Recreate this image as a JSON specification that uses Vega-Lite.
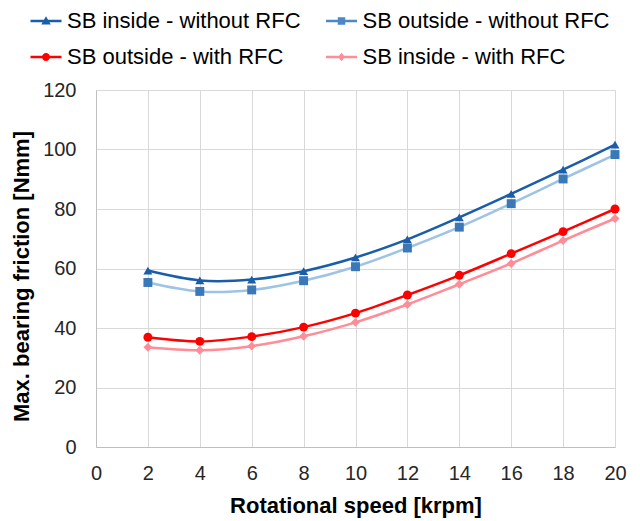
{
  "$schema": "https://vega.github.io/schema/vega-lite/v6.json",
  "width": 519,
  "height": 357,
  "autosize": {"type": "none"},
  "padding": {"left": 96, "top": 90, "right": 25, "bottom": 74},
  "background": "white",
  "config": {
    "font": "Liberation Sans",
    "view": {"stroke": null},
    "axis": {
      "gridColor": "#d9d9d9",
      "gridWidth": 1,
      "domainColor": "#bfbfbf",
      "ticks": false,
      "labelFlush": false,
      "labelFontSize": 20,
      "labelColor": "#262626",
      "labelFont": "Liberation Sans",
      "titleFont": "Liberation Sans",
      "titleFontSize": 22,
      "titleFontWeight": "bold",
      "titleColor": "#000000"
    }
  },
  "data": {
    "values": [
      {"speed": 2, "series": "SB inside - without RFC", "friction": 59.3},
      {"speed": 4, "series": "SB inside - without RFC", "friction": 56.0},
      {"speed": 6, "series": "SB inside - without RFC", "friction": 56.3},
      {"speed": 8, "series": "SB inside - without RFC", "friction": 59.1},
      {"speed": 10, "series": "SB inside - without RFC", "friction": 63.7},
      {"speed": 12, "series": "SB inside - without RFC", "friction": 69.8},
      {"speed": 14, "series": "SB inside - without RFC", "friction": 77.2},
      {"speed": 16, "series": "SB inside - without RFC", "friction": 85.1},
      {"speed": 18, "series": "SB inside - without RFC", "friction": 93.2},
      {"speed": 20, "series": "SB inside - without RFC", "friction": 101.6},
      {"speed": 2, "series": "SB outside - without RFC", "friction": 55.3},
      {"speed": 4, "series": "SB outside - without RFC", "friction": 52.3},
      {"speed": 6, "series": "SB outside - without RFC", "friction": 52.8},
      {"speed": 8, "series": "SB outside - without RFC", "friction": 55.9},
      {"speed": 10, "series": "SB outside - without RFC", "friction": 60.6},
      {"speed": 12, "series": "SB outside - without RFC", "friction": 66.9},
      {"speed": 14, "series": "SB outside - without RFC", "friction": 73.9},
      {"speed": 16, "series": "SB outside - without RFC", "friction": 81.8},
      {"speed": 18, "series": "SB outside - without RFC", "friction": 90.1},
      {"speed": 20, "series": "SB outside - without RFC", "friction": 98.3},
      {"speed": 2, "series": "SB outside - with RFC", "friction": 36.9},
      {"speed": 4, "series": "SB outside - with RFC", "friction": 35.5},
      {"speed": 6, "series": "SB outside - with RFC", "friction": 37.1},
      {"speed": 8, "series": "SB outside - with RFC", "friction": 40.3},
      {"speed": 10, "series": "SB outside - with RFC", "friction": 45.0},
      {"speed": 12, "series": "SB outside - with RFC", "friction": 51.1},
      {"speed": 14, "series": "SB outside - with RFC", "friction": 57.7},
      {"speed": 16, "series": "SB outside - with RFC", "friction": 65.0},
      {"speed": 18, "series": "SB outside - with RFC", "friction": 72.4},
      {"speed": 20, "series": "SB outside - with RFC", "friction": 80.0},
      {"speed": 2, "series": "SB inside - with RFC", "friction": 33.5},
      {"speed": 4, "series": "SB inside - with RFC", "friction": 32.5},
      {"speed": 6, "series": "SB inside - with RFC", "friction": 33.9},
      {"speed": 8, "series": "SB inside - with RFC", "friction": 37.2},
      {"speed": 10, "series": "SB inside - with RFC", "friction": 41.9},
      {"speed": 12, "series": "SB inside - with RFC", "friction": 47.9},
      {"speed": 14, "series": "SB inside - with RFC", "friction": 54.7},
      {"speed": 16, "series": "SB inside - with RFC", "friction": 61.7},
      {"speed": 18, "series": "SB inside - with RFC", "friction": 69.4},
      {"speed": 20, "series": "SB inside - with RFC", "friction": 76.8}
    ]
  },
  "encoding": {
    "x": {
      "field": "speed",
      "type": "quantitative",
      "scale": {"domain": [0, 20], "nice": false},
      "axis": {"values": [0, 2, 4, 6, 8, 10, 12, 14, 16, 18, 20], "title": "Rotational speed [krpm]", "labelPadding": 16, "titlePadding": 12}
    },
    "y": {
      "field": "friction",
      "type": "quantitative",
      "scale": {"domain": [0, 120], "nice": false},
      "axis": {"values": [0, 20, 40, 60, 80, 100, 120], "title": "Max. bearing friction [Nmm]", "labelPadding": 20, "titlePadding": 9, "titleY": 186}
    }
  },
  "layer": [
    {
      "mark": {"type": "line", "interpolate": "catmull-rom", "strokeWidth": 2.5},
      "encoding": {
        "color": {
          "field": "series",
          "type": "nominal",
          "scale": {
            "domain": ["SB inside - without RFC", "SB outside - without RFC", "SB outside - with RFC", "SB inside - with RFC"],
            "range": ["#1a5da8", "#9dc3e6", "#ff0000", "#ff8c96"]
          },
          "legend": null
        }
      }
    },
    {
      "mark": {"type": "point", "filled": true, "opacity": 1},
      "encoding": {
        "color": {
          "field": "series",
          "type": "nominal",
          "scale": {
            "domain": ["SB inside - without RFC", "SB outside - without RFC", "SB outside - with RFC", "SB inside - with RFC"],
            "range": ["#1a5da8", "#3a78b8", "#ff0000", "#ff8c96"]
          },
          "legend": null
        },
        "shape": {
          "field": "series",
          "type": "nominal",
          "scale": {
            "domain": ["SB inside - without RFC", "SB outside - without RFC", "SB outside - with RFC", "SB inside - with RFC"],
            "range": ["triangle-up", "square", "circle", "diamond"]
          },
          "legend": null
        },
        "size": {"value": 80}
      }
    },
    {
      "transform": [{"filter": "false"}],
      "mark": {"type": "point", "filled": true, "opacity": 1},
      "encoding": {
        "color": {
          "field": "series",
          "type": "nominal",
          "scale": {
            "domain": ["SB inside - without RFC", "SB outside - without RFC", "SB outside - with RFC", "SB inside - with RFC"],
            "range": ["#1a5da8", "#4a88c8", "#ff0000", "#ff8c96"]
          },
          "legend": {
            "orient": "none",
            "direction": "horizontal",
            "legendX": -61,
            "legendY": -80,
            "title": null,
            "columns": 2,
            "columnPadding": 21.5,
            "rowPadding": 14,
            "padding": 0,
            "labelFontSize": 22,
            "labelColor": "#000000",
            "labelFont": "Liberation Sans",
            "labelOffset": 10,
            "symbolSize": 100,
            "symbolOpacity": 1,
            "labelLimit": 400
          }
        },
        "shape": {
          "field": "series",
          "type": "nominal",
          "scale": {
            "domain": ["SB inside - without RFC", "SB outside - without RFC", "SB outside - with RFC", "SB inside - with RFC"],
            "range": [
              "M-3.1,-0.24H3.1V0.24H-3.1Z M0,-0.95L0.95,0.7H-0.95Z",
              "M-3.1,-0.24H3.1V0.24H-3.1Z M-0.75,-0.75H0.75V0.75H-0.75Z",
              "M-3.1,-0.24H3.1V0.24H-3.1Z M0.8,0A0.8,0.8,0,1,1,-0.8,0A0.8,0.8,0,1,1,0.8,0Z",
              "M-3.1,-0.24H3.1V0.24H-3.1Z M0,-0.85L0.7,0L0,0.85L-0.7,0Z"
            ]
          },
          "legend": {
            "orient": "none",
            "direction": "horizontal",
            "legendX": -61,
            "legendY": -80,
            "title": null,
            "columns": 2,
            "columnPadding": 21.5,
            "rowPadding": 14,
            "padding": 0,
            "labelFontSize": 22,
            "labelColor": "#000000",
            "labelFont": "Liberation Sans",
            "labelOffset": 10,
            "symbolSize": 100,
            "symbolOpacity": 1,
            "labelLimit": 400
          }
        },
        "size": {"value": 100}
      }
    }
  ],
  "resolve": {"scale": {"color": "independent", "shape": "independent"}}
}
